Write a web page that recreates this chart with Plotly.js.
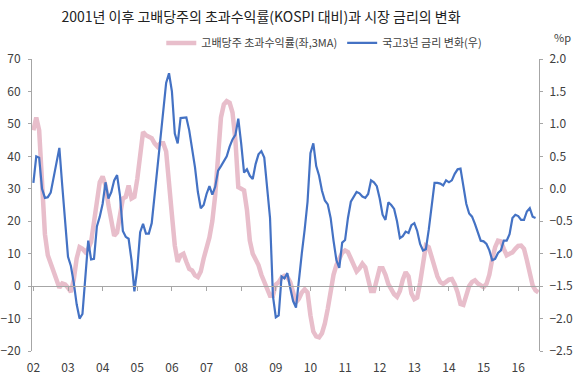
<!DOCTYPE html>
<html>
<head>
<meta charset="utf-8">
<script src="https://cdn.plot.ly/plotly-3.0.1.min.js"></script>
<style>html,body{margin:0;padding:0;background:#fff;}#chart{width:580px;height:386px;}</style>
</head>
<body>
<div id="chart"></div>
<script>
// Monthly series starting 2002-01
var startYear = 2002;
var excessReturn3MA = [48,52,48,33,16,9.5,6.8,4.5,2.2,-0.5,0.8,0.5,
  -0.5,-1.8,2,8.5,12,11.5,10.5,11.5,13.6,20,27,32,
  33.8,31,25,19.5,15.5,16.5,22,27,27.5,31,27,27.5,
  33,41,47.5,46.5,46,45.6,44,43,44,44,41.5,33,
  22,12.5,7.5,9.5,10,7.5,5.3,4.8,3.3,2.8,4.5,8.5,
  11.5,15,20,28,40,52,56,57,56.5,53.5,45,30.5,
  30,29.5,23.5,14,10,8.5,6.5,3.5,1,-1.5,-3,-3,
  0.5,1.2,2.6,3.2,2.8,1.2,-2.5,-5,-3.9,-2,-1,-2,
  -9,-14,-15.5,-15.8,-14.5,-11.5,-7,-1.5,3.5,6.5,8.5,10.3,
  11,10.5,8.5,6,4.5,5.5,6.9,5.8,2,-1.5,-1.5,1.5,
  5.5,5.5,3.5,0.6,-1.3,-2.5,-3.3,-1.5,2,4.3,3,-2.3,
  -4,-3.5,1,7.5,12.5,12,9,5.5,3,1.2,0.7,1.3,
  2,2.2,0.5,-2,-5.5,-5.8,-3,0,1.3,1.8,0.8,0.2,
  -0.3,0.7,3.5,8.3,12,14,13.8,11.5,9.5,10,10.4,11.5,
  12.4,12.5,11.5,8,3.8,0.2,-1.3,-1.9];
var ktb3yChange = [0.09,0.50,0.48,0.00,-0.14,-0.13,-0.06,0.18,0.43,0.63,0.05,-0.50,
  -1.05,-1.19,-1.45,-1.78,-2.00,-1.93,-1.43,-0.80,-1.09,-1.08,-0.58,-0.43,
  -0.23,0.10,-0.15,-0.05,0.13,0.21,-0.10,-0.65,-0.74,-0.77,-1.10,-1.58,
  -1.23,-0.67,-0.54,-0.69,-0.69,-0.53,-0.10,0.35,0.73,1.18,1.63,1.78,
  1.50,0.85,0.70,1.09,1.10,1.10,0.90,0.60,0.33,-0.05,-0.30,-0.25,
  -0.08,0.04,-0.09,0.03,0.28,0.35,0.43,0.50,0.65,0.76,0.83,1.08,
  0.70,0.25,0.30,0.20,0.15,0.38,0.53,0.58,0.48,0.00,-0.45,-1.65,
  -1.98,-1.95,-1.35,-1.38,-1.30,-1.53,-1.73,-1.83,-1.37,-1.00,-0.63,-0.20,
  0.55,0.70,0.35,0.20,-0.03,-0.18,-0.24,-0.45,-0.80,-1.10,-1.22,-0.83,
  -0.79,-0.45,-0.20,-0.13,-0.05,-0.07,-0.12,-0.14,-0.08,0.13,0.10,0.04,
  -0.15,-0.40,-0.48,-0.21,-0.25,-0.31,-0.50,-0.76,-0.73,-0.66,-0.68,-0.56,
  -0.53,-0.65,-0.85,-0.95,-0.93,-0.63,-0.23,0.09,0.09,0.08,0.05,0.13,
  0.10,0.13,0.23,0.30,0.31,0.05,-0.23,-0.38,-0.43,-0.54,-0.66,-0.80,
  -0.81,-0.85,-0.95,-1.10,-1.08,-0.99,-0.95,-0.80,-0.80,-0.70,-0.45,-0.40,
  -0.42,-0.48,-0.48,-0.35,-0.30,-0.43,-0.45];
var yearTicks = [2002,2003,2004,2005,2006,2007,2008,2009,2010,2011,2012,2013,2014,2015,2016];
var yearTickText = ['02','03','04','05','06','07','08','09','10','11','12','13','14','15','16'];
var seriesNames = ['고배당주 초과수익률(좌,3MA)', '국고3년 금리 변화(우)'];
var titleText = '2001년 이후 고배당주의 초과수익률(KOSPI 대비)과 시장 금리의 변화';

function monthX(n){ var a=[]; for(var i=0;i<n;i++){ a.push(startYear + i/12); } return a; }

var FONT = '"Noto Sans CJK KR", "Noto Sans", sans-serif';
var traces = [
  {x: monthX(excessReturn3MA.length), y: excessReturn3MA, type:'scatter', mode:'lines',
   name: seriesNames[0], line:{color:'#E8BECB', width:4.5}, yaxis:'y', xaxis:'x'},
  {x: monthX(ktb3yChange.length), y: ktb3yChange, type:'scatter', mode:'lines',
   name: seriesNames[1], line:{color:'#4472C4', width:2.2}, yaxis:'y2', xaxis:'x'}
];
var layout = {
  width:580, height:386,
  margin:{l:32, r:41, t:59, b:35},
  paper_bgcolor:'#fff', plot_bgcolor:'#fff',
  font:{family:FONT, size:12, color:'#404040'},
  title:{text:titleText, x:0.45, xanchor:'center', y:0.955, yanchor:'middle', font:{family:FONT, size:14, color:'#222'}},
  showlegend:true,
  legend:{orientation:'h', x:0.255, xanchor:'left', y:1.055, yanchor:'middle', font:{family:FONT, size:11, color:'#404040'}, bgcolor:'rgba(0,0,0,0)', itemwidth:30, tracegroupgap:0},
  xaxis:{range:[2001.96, 2016.6], tickvals:yearTicks, ticktext:yearTickText, showgrid:false, zeroline:false,
    anchor:'free', position:20/90, showline:true, linecolor:'#a6a6a6', linewidth:1,
    ticks:'outside', ticklen:4, tickcolor:'#a6a6a6', ticklabelstandoff:66, tickfont:{size:12, color:'#404040'}},
  yaxis:{range:[-20,70], dtick:10, tick0:0, showgrid:false, zeroline:false, showline:true, linecolor:'#a6a6a6',
    ticks:'outside', ticklen:3, tickcolor:'#a6a6a6', ticklabelstandoff:5, tickfont:{size:12, color:'#404040'}},
  yaxis2:{range:[-2.5,2.0], dtick:0.5, tick0:0, tickformat:'.1f', overlaying:'y', side:'right', showgrid:false, zeroline:false,
    showline:true, linecolor:'#a6a6a6', ticks:'outside', ticklen:3, tickcolor:'#a6a6a6', ticklabelstandoff:4, tickfont:{size:12, color:'#404040'}},
  annotations:[{text:'%p', xref:'paper', yref:'paper', x:1.047, y:1.075, xanchor:'center', yanchor:'middle', showarrow:false, font:{family:FONT, size:11, color:'#404040'}}]
};
Plotly.newPlot('chart', traces, layout, {staticPlot:true, displayModeBar:false});
</script>
</body>
</html>
